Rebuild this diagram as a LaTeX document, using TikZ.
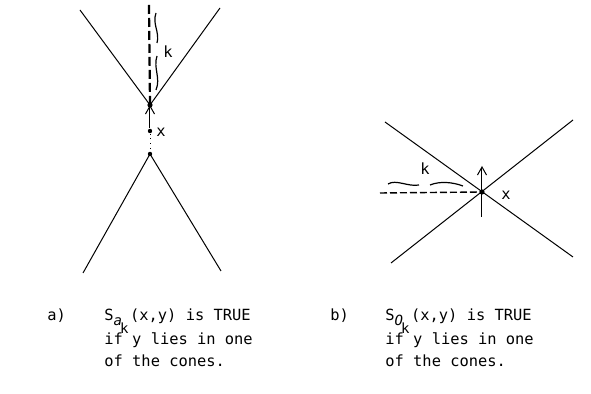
\documentclass[tikz,border=0pt]{standalone}
\usepackage{fontspec}
\setmonofont{DejaVu Sans Mono}
\usetikzlibrary{arrows.meta, positioning}
\newcommand{\subfnt}{\fontsize{7}{8}\selectfont}
\tikzset{
  cone/.style={line width=0.5pt},
  dot/.style={circle, fill, inner sep=0pt, minimum size=2.2pt},
  lbl/.style={font=\ttfamily\fontsize{7.7}{9}\selectfont, inner sep=0pt},
  caption/.style={lbl, anchor=base west},
  wave/.style={line width=0.6pt},
  barb/.style={-{Straight Barb[length=4pt,width=4.5pt]}, line width=0.5pt},
}

\begin{document}
\begin{tikzpicture}[x=0.5pt,y=-0.5pt]
  \useasboundingbox (0,0) rectangle (591,394);

  % a) cones along the k direction
  \node[dot, minimum size=2.6pt] (apexA) at (150,105) {};
  \node[dot] (xA) at (150,131) {};
  \node[dot] (botA) at (150,154) {};
  \coordinate (ulA) at (80,10);
  \coordinate (urA) at (220,8);
  \coordinate (llA) at (83,273);
  \coordinate (lrA) at (221,271);
  \coordinate (dashA) at (149,5);

  \draw[cone] (ulA) -- (apexA.center) -- (urA);
  \draw[cone] (llA) -- (botA.center) -- (lrA);
  \draw[line width=1.1pt, dash pattern=on 4.5pt off 2pt] (dashA) -- (apexA.center);
  \draw[barb] (xA) -- (apexA.center);
  \draw[dotted, line width=0.4pt] (xA) -- (botA);

  % wavy mark
  \draw[wave] (156,13) .. controls (152,24) and (160,32) .. (157,43);
  \draw[wave] (157,56) .. controls (153,68) and (161,78) .. (156,90);
  \node[lbl] (kA) at (168,52) {k};
  \node[lbl] (xlabA) at (161,132) {x};

  % b) cones across the k direction
  \node[dot, minimum size=2.6pt] (xB) at (482,192) {};
  \coordinate (ulB) at (385,122);
  \coordinate (lrB) at (573,257);
  \coordinate (llB) at (391,263);
  \coordinate (urB) at (573,120);
  \coordinate (dashB) at (380,193);
  \coordinate (tailB) at (482,217);
  \coordinate (tipB) at (482,166);

  \draw[cone] (ulB) -- (lrB);
  \draw[cone] (llB) -- (urB);
  \draw[line width=0.7pt, dash pattern=on 3.5pt off 1.5pt] (dashB) -- (xB.center);
  \draw[barb] (tailB) -- (tipB);

  % wavy mark
  \draw[wave] (388,184) .. controls (396,179) and (408,187) .. (419,185);
  \draw[wave] (430,185) .. controls (440,181) and (452,182) .. (463,186);
  \node[lbl] (kB) at (425,169) {k};
  \node[lbl] (xlabB) at (506,195) {x};

  % captions
  \node[caption] (tagA) at (47,321) {a)};
  \node[caption] (predA) at (104,321) {S\raisebox{-2.5pt}{\subfnt\itshape a}\raisebox{-6.5pt}{\subfnt\kern-1pt k}\kern0.8pt(x,y) is TRUE};
  \node[caption] (condA) at (104,345) {if y lies in one};
  \node[caption] (coneA) at (104,367) {of the cones.};

  \node[caption] (tagB) at (330,321) {b)};
  \node[caption] (predB) at (385,321) {S\raisebox{-2.5pt}{\subfnt\itshape O}\raisebox{-6.5pt}{\subfnt\kern-1pt k}\kern0.8pt(x,y) is TRUE};
  \node[caption] (condB) at (385,345) {if y lies in one};
  \node[caption] (coneB) at (385,367) {of the cones.};
\end{tikzpicture}
\end{document}
